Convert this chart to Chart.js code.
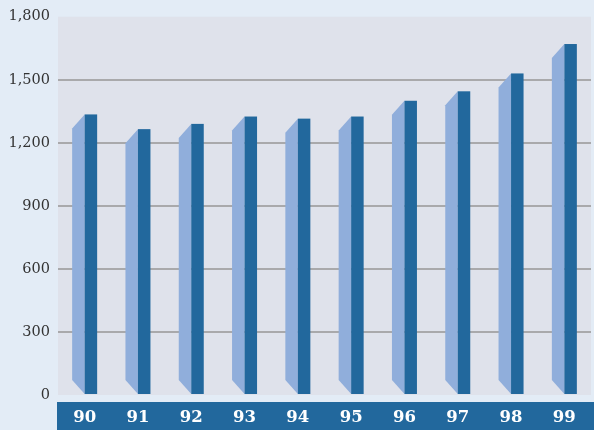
<!DOCTYPE html>
<html>
<head>
<meta charset="utf-8">
<script src="https://cdn.jsdelivr.net/npm/chart.js@4/dist/chart.umd.min.js"></script>
<style>
  html, body { margin: 0; padding: 0; background: #e3ecf6; }
  #wrap { width: 594px; height: 430px; }
</style>
</head>
<body>
<div id="wrap"><canvas id="grafico"></canvas></div>
<script>
const categorias = ['90', '91', '92', '93', '94', '95', '96', '97', '98', '99'];
const valores = [1335, 1265, 1290, 1325, 1315, 1325, 1400, 1445, 1530, 1670];
const ticksY = [0, 300, 600, 900, 1200, 1500, 1800];

const colorFrente = '#22689d';
const colorLado = '#90aedb';

// fondo del area de trazado y banda azul inferior
const fondoPlugin = {
    id: 'fondo',
    beforeDraw(chart) {
        const { ctx, chartArea: a, width, height } = chart;
        ctx.save();
        ctx.fillStyle = '#dfe2eb';
        ctx.fillRect(a.left, a.top, a.right - a.left, a.bottom - a.top);
        ctx.fillStyle = colorFrente;
        ctx.fillRect(a.left - 1, a.bottom + 7, width - a.left + 1, height - a.bottom - 7);
        ctx.restore();
    }
};

// barras con cara lateral en perspectiva
const barras3D = {
    id: 'barras3D',
    afterDatasetsDraw(chart) {
        const { ctx } = chart;
        const meta = chart.getDatasetMeta(0);
        ctx.save();
        meta.data.forEach(bar => {
            const x = bar.x, top = bar.y, base = bar.base;
            const w = 12.5;
            ctx.fillStyle = colorLado;
            ctx.beginPath();
            ctx.moveTo(x, top);
            ctx.lineTo(x - w, top + 14);
            ctx.lineTo(x - w, base - 14);
            ctx.lineTo(x, base);
            ctx.closePath();
            ctx.fill();
            ctx.fillStyle = colorFrente;
            ctx.fillRect(x, top, w, base - top);
        });
        ctx.restore();
    }
};

new Chart(document.getElementById('grafico'), {
    type: 'bar',
    data: {
        labels: categorias,
        datasets: [{ data: valores, backgroundColor: 'rgba(0,0,0,0)', barThickness: 25 }]
    },
    options: {
        responsive: true,
        maintainAspectRatio: false,
        animation: false,
        layout: { padding: { top: 12, right: 3, left: 0, bottom: 0 } },
        plugins: { legend: { display: false }, tooltip: { enabled: false } },
        scales: {
            x: {
                grid: { display: false, drawTicks: false },
                border: { display: false },
                ticks: { color: '#ffffff', padding: 13, font: { family: 'DejaVu Serif', size: 16.5, weight: 'bold' } },
                afterFit(s) { s.height = 35; }
            },
            y: {
                min: 0, max: 1800,
                afterBuildTicks(s) { s.ticks = ticksY.map(v => ({ value: v })); },
                grid: {
                    drawTicks: false,
                    lineWidth: 2,
                    color: c => (c.tick && (c.tick.value === 0 || c.tick.value === 1800)) ? 'rgba(0,0,0,0)' : '#a9a9ab'
                },
                border: { display: false },
                ticks: {
                    color: '#333333', padding: 8,
                    font: { family: 'DejaVu Serif', size: 14.5 },
                    callback: v => v.toLocaleString('en-US')
                },
                afterFit(s) { s.width = 58; }
            }
        }
    },
    plugins: [fondoPlugin, barras3D]
});
</script>
</body>
</html>
